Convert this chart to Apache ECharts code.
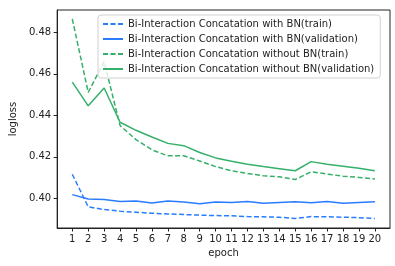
<!DOCTYPE html>
<html>
<head>
<meta charset="utf-8">
<script src="https://cdn.jsdelivr.net/npm/echarts@6/dist/echarts.min.js"></script>
<style>html,body{margin:0;padding:0;background:#fff}#c{width:395px;height:266px}</style>
</head>
<body>
<div id="c"></div>
<script>
const epochs = [1,2,3,4,5,6,7,8,9,10,11,12,13,14,15,16,17,18,19,20];
const yTicks = [0.40, 0.42, 0.44, 0.46, 0.48];
const names = [
  'Bi-Interaction Concatation with BN(train)',
  'Bi-Interaction Concatation with BN(validation)',
  'Bi-Interaction Concatation without BN(train)',
  'Bi-Interaction Concatation without BN(validation)'
];
const bnTrain = [0.4116,0.3959,0.3946,0.3938,0.3933,0.3928,0.3925,0.3922,0.3919,0.3917,0.3916,0.3912,0.3911,0.3909,0.3903,0.3912,0.3911,0.3909,0.3907,0.3903];
const bnVal = [0.4018,0.3997,0.3994,0.3985,0.3987,0.3977,0.3987,0.3982,0.3974,0.3982,0.3980,0.3985,0.3976,0.3980,0.3984,0.3979,0.3985,0.3976,0.3980,0.3984];
const noBnTrain = [0.4865,0.4511,0.4659,0.4351,0.4283,0.4234,0.4205,0.4205,0.4180,0.4153,0.4133,0.4120,0.4109,0.4104,0.4091,0.4128,0.4117,0.4107,0.4101,0.4093];
const noBnVal = [0.4560,0.4446,0.4532,0.4367,0.4328,0.4296,0.4265,0.4254,0.4221,0.4195,0.4179,0.4164,0.4153,0.4143,0.4133,0.4177,0.4164,0.4155,0.4145,0.4133];

const BLUE = '#2a7cff', GREEN = '#35b06a';
const font = 'DejaVu Sans';
function pairs(arr){ return epochs.map((e,i)=>[e, arr[i]]); }
function mk(name, data, color, dashed){
  return {name, type:'line', data:pairs(data), symbol:'none', showSymbol:false,
    lineStyle:{color, width:1.5, type: dashed ? [5,2.5] : 'solid'}, itemStyle:{color}, animation:false};
}
const chart = echarts.init(document.getElementById('c'));
chart.setOption({
  animation:false,
  grid:{left:50, right:5, top:10, bottom:38, show:true, borderColor:'#222', borderWidth:1, backgroundColor:'transparent'},
  xAxis:{type:'value', min:0.05, max:20.95, name:'epoch', nameLocation:'middle', nameGap:19,
    nameTextStyle:{fontFamily:font, fontSize:10, color:'#222'},
    axisLine:{show:true, onZero:false, lineStyle:{color:'#222'}},
    axisTick:{show:true, length:3.5, customValues:epochs, lineStyle:{color:'#222'}},
    axisLabel:{customValues:epochs, fontFamily:font, fontSize:10, color:'#222', margin:6},
    splitLine:{show:false}},
  yAxis:{type:'value', min:0.3857, max:0.4908, name:'logloss', nameLocation:'middle', nameGap:37,
    nameTextStyle:{fontFamily:font, fontSize:10, color:'#222'},
    axisLine:{show:true, onZero:false, lineStyle:{color:'#222'}},
    axisTick:{show:true, length:3.5, customValues:yTicks, lineStyle:{color:'#222'}},
    axisLabel:{customValues:yTicks, fontFamily:font, fontSize:10, color:'#222', margin:6,
      formatter:v=>v.toFixed(2)},
    splitLine:{show:false}},
  legend:{orient:'vertical', left:98, top:15, itemWidth:20, itemHeight:10, itemGap:5,
    padding:[4,6,4,4], backgroundColor:'rgba(255,255,255,0.8)', borderColor:'#d0d0d0', borderWidth:1, borderRadius:3,
    itemStyle:{opacity:0},
    textStyle:{fontFamily:font, fontSize:10, color:'#222'}, data:names},
  series:[
    mk(names[0], bnTrain, BLUE, true),
    mk(names[1], bnVal, BLUE, false),
    mk(names[2], noBnTrain, GREEN, true),
    mk(names[3], noBnVal, GREEN, false)
  ]
});
</script>
</body>
</html>
